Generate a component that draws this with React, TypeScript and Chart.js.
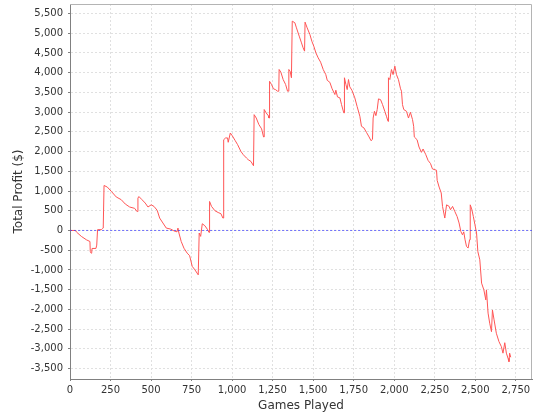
import React, { useEffect, useRef } from "react";
import { Chart, registerables } from "chart.js";

Chart.register(...registerables);

const games = [
  0, 33, 40, 70, 101, 123, 125, 130, 134, 136, 160, 165, 170, 193, 201, 205, 210, 230, 255, 285,
  316, 341, 368, 399, 413, 417, 419, 425, 444, 464, 481, 501, 518, 538, 553, 573, 594, 621, 641, 660,
  666, 672, 686, 703, 723, 738, 754, 771, 791, 795, 797, 806, 816, 832, 849, 857, 860, 861, 873, 894,
  914, 931, 943, 947, 948, 960, 972, 976, 989, 1001, 1018, 1034, 1054, 1069, 1089, 1099, 1116, 1132, 1135, 1136,
  1149, 1165, 1182, 1194, 1197, 1198, 1210, 1223, 1227, 1230, 1231, 1243, 1255, 1268, 1280, 1288, 1290, 1301, 1315, 1330,
  1342, 1348, 1350, 1358, 1366, 1369, 1371, 1387, 1397, 1414, 1428, 1438, 1447, 1449, 1450, 1463, 1480, 1492, 1504, 1517,
  1531, 1546, 1562, 1578, 1587, 1603, 1617, 1634, 1640, 1650, 1665, 1675, 1689, 1692, 1693, 1702, 1710, 1718, 1726, 1739,
  1757, 1771, 1788, 1798, 1813, 1829, 1845, 1857, 1866, 1869, 1870, 1878, 1887, 1895, 1903, 1916, 1928, 1942, 1952, 1962,
  1964, 1965, 1973, 1983, 1993, 2004, 2014, 2026, 2039, 2045, 2051, 2059, 2076, 2088, 2100, 2113, 2120, 2124, 2141, 2153,
  2168, 2178, 2195, 2209, 2224, 2236, 2261, 2265, 2277, 2290, 2298, 2312, 2323, 2339, 2347, 2360, 2374, 2388, 2400, 2411,
  2421, 2429, 2437, 2446, 2456, 2465, 2468, 2469, 2478, 2488, 2498, 2508, 2516, 2528, 2539, 2553, 2565, 2569, 2579, 2589,
  2600, 2606, 2616, 2630, 2646, 2661, 2671, 2682, 2692, 2702, 2708, 2712, 2719,
];

const profit = [
  0, 0, -40, -150, -236, -280, -530, -575, -560, -456, -456, -371, 20, 20, 50, 60, 1140, 1100, 990, 850,
  780, 670, 595, 560, 480, 480, 820, 860, 780, 695, 595, 650, 610, 510, 315, 190, 60, 35, -10, -35,
  60, -65, -280, -450, -575, -640, -910, -1000, -1125, -1125, -65, -150, 170, 120, 20, -50, -50, 735, 610, 500,
  455, 425, 315, 315, 2300, 2345, 2345, 2235, 2470, 2400, 2285, 2175, 2005, 1920, 1835, 1795, 1750, 1640, 1640, 2935,
  2850, 2685, 2575, 2370, 2370, 3065, 2980, 2910, 2850, 2850, 3780, 3700, 3590, 3570, 3530, 3530, 4080, 4010, 3825, 3700,
  3530, 3530, 4080, 4035, 3870, 3870, 5305, 5265, 5135, 4925, 4755, 4630, 4545, 4545, 5280, 5135, 4965, 4795, 4670, 4500,
  4375, 4265, 4080, 3950, 3805, 3755, 3590, 3445, 3555, 3385, 3360, 3190, 2980, 2980, 3870, 3700, 3570, 3825, 3640, 3555,
  3360, 3145, 2895, 2640, 2600, 2485, 2370, 2275, 2310, 2310, 2850, 3020, 2910, 3065, 3335, 3315, 3190, 3020, 2895, 2765,
  2765, 3870, 3825, 4080, 3950, 4165, 3950, 3825, 3590, 3530, 3190, 3065, 3020, 2850, 2995, 2810, 2640, 2370, 2300, 2115,
  1980, 2065, 1920, 1775, 1695, 1560, 1525, 1270, 1100, 950, 610, 315, 650, 610, 525, 610, 480, 355, 190, -25,
  -110, -35, -235, -405, -445, -235, -235, 650, 545, 355, 145, -65, -535, -745, -1335, -1505, -1760, -1505, -2095, -2350,
  -2565, -2015, -2265, -2605, -2815, -2945, -3110, -2845, -3110, -3240, -3325, -3110, -3215,
];

const xTicks = [0, 250, 500, 750, 1000, 1250, 1500, 1750, 2000, 2250, 2500, 2750];
const yTicks = [-3500, -3000, -2500, -2000, -1500, -1000, -500, 0, 500, 1000, 1500, 2000, 2500, 3000, 3500, 4000, 4500, 5000, 5500];
const xMin = 0;
const xMax = 2850;
const yMin = -3765;
const yMax = 5740;
const baselineValue = 0;
const xTitle = "Games Played";
const yTitle = "Total Profit ($)";

const fmt = (v: number) => v.toLocaleString("en-US");

export default function App() {
  const ref = useRef<HTMLCanvasElement>(null);

  useEffect(() => {
    document.body.style.margin = "0";
    const canvas = ref.current;
    if (!canvas) return;

    const outline = {
      id: "outline",
      beforeDatasetsDraw(chart: any) {
        const { ctx, chartArea: a } = chart;
        ctx.save();
        ctx.strokeStyle = "#b4b4b4";
        ctx.lineWidth = 1;
        ctx.beginPath();
        ctx.moveTo(a.left, Math.floor(a.top) + 0.5);
        ctx.lineTo(Math.floor(a.right) - 0.5, Math.floor(a.top) + 0.5);
        ctx.lineTo(Math.floor(a.right) - 0.5, a.bottom);
        ctx.stroke();
        ctx.restore();
      },
    };

    const tickFont = { family: "DejaVu Sans", size: 10 };
    const titleFont = { family: "DejaVu Sans", size: 12 };

    const chart = new Chart(canvas, {
      type: "line",
      data: {
        datasets: [
          {
            label: "baseline",
            data: [
              { x: xMin, y: baselineValue },
              { x: xMax, y: baselineValue },
            ],
            borderColor: "rgba(50,50,255,0.65)",
            borderWidth: 1,
            borderDash: [2, 2],
            pointRadius: 0,
            order: 0,
          },
          {
            label: "profit",
            data: games.map((g, i) => ({ x: g, y: profit[i] })),
            borderColor: "#ff5555",
            borderWidth: 1,
            pointRadius: 0,
            tension: 0,
            order: 1,
          },
        ],
      },
      plugins: [outline],
      options: {
        animation: false,
        responsive: false,
        maintainAspectRatio: false,
        layout: { padding: { top: 4, right: 8, bottom: 0, left: 0 } },
        plugins: {
          legend: { display: false },
          tooltip: { enabled: false },
        },
        scales: {
          x: {
            type: "linear",
            min: xMin,
            max: xMax,
            afterBuildTicks: (scale: any) => {
              scale.ticks = xTicks.map((v) => ({ value: v }));
            },
            afterFit: (scale: any) => {
              scale.height = 41;
              scale.paddingLeft = 0;
              scale.paddingRight = 0;
            },
            ticks: {
              autoSkip: false,
              maxRotation: 0,
              padding: 3,
              color: "#333",
              font: tickFont,
              callback: (v: any) => fmt(Number(v)),
            },
            grid: {
              color: "#e0e0e0",
              tickColor: "#808080",
              tickLength: 2,
              tickBorderDash: [],
            },
            border: { color: "#808080", dash: [2, 2] },
            title: {
              display: true,
              text: xTitle,
              color: "#333",
              font: titleFont,
              padding: { top: 0, bottom: 7 },
            },
          },
          y: {
            type: "linear",
            min: yMin,
            max: yMax,
            afterBuildTicks: (scale: any) => {
              scale.ticks = yTicks.map((v) => ({ value: v }));
            },
            afterFit: (scale: any) => {
              scale.width = 70;
              scale.paddingTop = 0;
              scale.paddingBottom = 0;
            },
            ticks: {
              padding: 5,
              color: "#333",
              font: tickFont,
              callback: (v: any) => fmt(Number(v)),
            },
            grid: {
              color: "#e0e0e0",
              tickColor: "#808080",
              tickLength: 2,
              tickBorderDash: [],
            },
            border: { color: "#808080", dash: [2, 2] },
            title: {
              display: true,
              text: yTitle,
              color: "#333",
              font: titleFont,
              padding: { top: 12, bottom: 0 },
            },
          },
        },
      },
    });

    return () => chart.destroy();
  }, []);

  return (
    <div style={{ width: 540, height: 420, background: "#fff" }}>
      <canvas ref={ref} width={540} height={420} />
    </div>
  );
}
